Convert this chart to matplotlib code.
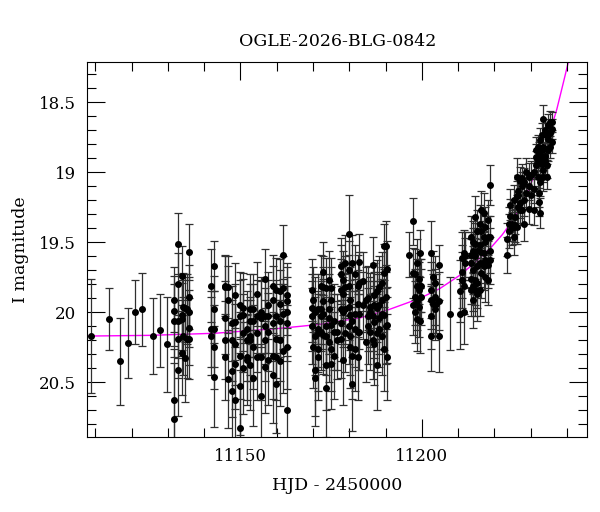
"""
OGLE-2026-BLG-0842 light curve: I-band photometry with a model curve
"""
import numpy as np
import matplotlib
matplotlib.use("Agg")
import matplotlib.pyplot as plt
from matplotlib.ticker import MultipleLocator

TITLE = "OGLE-2026-BLG-0842"
XLABEL = "HJD - 2450000"
YLABEL = "I magnitude"

# early sparse points
t_a = [11108.9, 11113.9, 11116.9, 11118.9, 11121.0, 11122.9, 11125.8, 11127.8, 11129.8]
mag_a = [[20.17], [20.05], [20.35], [20.22], [20.00], [19.98], [20.17], [20.13], [20.23]]
err_a = [[0.41], [0.22], [0.31], [0.25], [0.23], [0.26], [0.27], [0.26], [0.34]]

# first dense group
t_b = [11131.7, 11132.7, 11132.9, 11133.8, 11134.1, 11134.3, 11134.8, 11135.2,
       11135.8, 11141.8, 11142.8, 11145.8, 11146.7]
mag_b = [[19.91, 19.99, 20.06, 20.63, 20.76], [19.51, 19.80, 20.19, 20.41], [20.06],
         [19.74, 20.02, 20.05, 20.29], [19.96], [20.17], [19.97, 20.33], [19.98, 20.19],
         [19.57, 19.89, 20.00, 20.11, 20.19], [19.81, 20.12, 20.17],
         [19.67, 19.98, 20.12, 20.25, 20.46], [19.81, 19.82, 20.04, 20.20, 20.32],
         [19.82, 19.91, 20.48]]
err_b = [[0.23, 0.25, 0.26, 0.37, 0.40], [0.22, 0.22, 0.28, 0.33], [0.27],
         [0.21, 0.25, 0.26, 0.30], [0.24], [0.28], [0.24, 0.31], [0.25, 0.28],
         [0.20, 0.23, 0.25, 0.27, 0.29], [0.26, 0.27, 0.28],
         [0.18, 0.24, 0.27, 0.30, 0.36], [0.22, 0.22, 0.26, 0.28, 0.31],
         [0.22, 0.24, 0.35]]

# 11148 - 11163
t_c = [11147.8, 11148.5, 11149.9, 11150.8, 11151.8, 11152.7, 11153.6, 11154.7,
       11155.7, 11156.8, 11157.7, 11158.9, 11159.9, 11160.8, 11161.7, 11162.8]
mag_c = [[20.08, 20.20, 20.42, 20.56], [19.88, 20.07, 20.23, 20.37, 20.63],
         [19.95, 20.03, 20.31, 20.53, 20.83], [19.97, 20.02, 20.15, 20.40],
         [20.12, 20.20, 20.32, 20.34], [19.98, 20.06, 20.17, 20.20, 20.38],
         [19.98, 20.06, 20.25, 20.47], [19.87, 20.03, 20.15, 20.32],
         [20.00, 20.04, 20.32, 20.60], [19.76, 20.03, 20.10, 20.20, 20.39],
         [19.95, 20.03, 20.14, 20.34], [19.81, 19.91, 20.08, 20.31, 20.45],
         [19.84, 20.03, 20.19, 20.32, 20.51], [19.85, 19.94, 20.06, 20.20, 20.35],
         [19.59, 19.83, 20.01, 20.28], [19.88, 19.92, 20.00, 20.08, 20.25, 20.70]]
err_c = [[0.27, 0.29, 0.33, 0.36], [0.23, 0.27, 0.29, 0.32, 0.38],
         [0.24, 0.26, 0.31, 0.35, 0.42], [0.25, 0.26, 0.28, 0.33],
         [0.27, 0.29, 0.31, 0.32], [0.25, 0.26, 0.28, 0.29, 0.32],
         [0.25, 0.26, 0.30, 0.34], [0.23, 0.26, 0.28, 0.31],
         [0.25, 0.26, 0.31, 0.37], [0.21, 0.26, 0.27, 0.29, 0.33],
         [0.24, 0.26, 0.28, 0.32], [0.22, 0.24, 0.27, 0.31, 0.34],
         [0.23, 0.26, 0.28, 0.31, 0.35], [0.23, 0.24, 0.26, 0.29, 0.32],
         [0.21, 0.23, 0.25, 0.30], [0.23, 0.24, 0.25, 0.27, 0.30, 0.39]]

# 11169 - 11191
t_d = [11169.7, 11170.1, 11170.6, 11171.5, 11172.2, 11172.7, 11173.6, 11174.3,
       11174.9, 11175.7, 11176.6, 11177.7, 11178.2, 11178.9, 11179.8, 11180.2,
       11180.7, 11181.6, 11182.3, 11182.8, 11183.7, 11184.7, 11185.3, 11185.8,
       11186.5, 11186.9, 11187.6, 11188.3, 11189.0, 11189.6, 11190.2, 11190.5]
mag_d = [[19.84, 19.97, 20.03, 20.10], [19.91, 20.25], [20.00, 20.17, 20.41, 20.47],
         [19.98, 20.12, 20.15, 20.26, 20.32], [19.81, 19.98, 20.03, 20.14],
         [19.71, 19.82, 19.92, 20.01, 20.16], [19.83, 20.10, 20.17, 20.38, 20.54],
         [19.77, 19.98, 20.04, 20.21], [19.83, 19.91, 20.09, 20.26, 20.37],
         [20.06, 20.14, 20.31], [20.14, 20.20], [19.67, 19.73, 19.84, 19.98, 20.08, 20.19],
         [19.77, 19.87, 20.00, 20.34], [19.65, 19.82, 19.98, 20.15],
         [19.44, 19.70, 19.81, 19.96, 20.10], [19.91, 20.02, 20.17, 20.25],
         [19.65, 20.06, 20.31, 20.51], [19.73, 20.01, 20.12, 20.26],
         [19.81, 19.94, 20.14, 20.32], [19.64, 19.79, 20.01, 20.14], [19.78, 19.95],
         [19.91, 20.21], [19.90, 20.03, 20.10], [19.96, 20.00, 20.14],
         [19.66, 20.03, 20.20], [19.88, 19.95, 20.07, 20.23], [19.85, 19.97, 20.15, 20.38],
         [19.82, 19.95, 20.04, 20.12], [19.79, 19.91, 20.01, 20.17],
         [19.53, 19.72, 20.02, 20.26], [19.53, 19.89, 20.10], [19.69, 20.09, 20.32]]
err_d = [[0.22, 0.24, 0.25, 0.27], [0.23, 0.29], [0.25, 0.28, 0.33, 0.34],
         [0.25, 0.27, 0.28, 0.30, 0.31], [0.22, 0.25, 0.25, 0.27],
         [0.21, 0.22, 0.24, 0.25, 0.28], [0.22, 0.27, 0.28, 0.32, 0.35],
         [0.21, 0.25, 0.26, 0.29], [0.22, 0.23, 0.27, 0.30, 0.32],
         [0.26, 0.27, 0.31], [0.27, 0.28], [0.20, 0.21, 0.22, 0.25, 0.27, 0.28],
         [0.21, 0.23, 0.25, 0.32], [0.20, 0.22, 0.25, 0.28],
         [0.28, 0.21, 0.22, 0.24, 0.27], [0.23, 0.25, 0.28, 0.29],
         [0.20, 0.26, 0.31, 0.34], [0.21, 0.25, 0.27, 0.30],
         [0.22, 0.24, 0.27, 0.31], [0.20, 0.22, 0.25, 0.27], [0.21, 0.24],
         [0.23, 0.29], [0.23, 0.25, 0.27], [0.24, 0.25, 0.27],
         [0.20, 0.25, 0.28], [0.23, 0.24, 0.26, 0.29], [0.22, 0.24, 0.28, 0.32],
         [0.22, 0.24, 0.26, 0.27], [0.22, 0.23, 0.25, 0.28],
         [0.16, 0.21, 0.25, 0.30], [0.18, 0.23, 0.27], [0.20, 0.27, 0.31]]

# rising part, 11196 - 11236
t_e = [11196.6, 11197.7, 11198.2, 11198.6, 11199.1, 11199.4, 11199.7, 11202.6,
       11203.0, 11203.5, 11204.0, 11204.6, 11207.8, 11210.6, 11211.0, 11211.5,
       11211.9, 11213.5, 11214.1, 11214.7, 11215.3, 11215.9, 11216.4, 11217.0,
       11217.5, 11218.1, 11218.7, 11223.4, 11223.9, 11224.4, 11224.8, 11225.3,
       11225.7, 11226.2, 11226.6, 11227.1, 11227.6, 11228.2, 11228.8, 11229.4,
       11230.0, 11230.8, 11231.5, 11231.9, 11232.4, 11232.6, 11233.1, 11233.5,
       11234.0, 11234.5, 11234.9, 11235.4, 11235.8]
mag_e = [[19.59], [19.35, 19.72, 19.95], [19.73, 19.89, 20.00], [19.65, 19.81, 19.92, 20.05],
         [19.76, 19.84, 19.96], [19.58, 19.81, 20.06], [19.81, 19.89],
         [19.58, 19.84, 19.91, 20.03, 20.17], [19.75, 19.94], [19.79, 19.89, 19.98],
         [19.94], [19.66, 19.92, 20.17], [20.01], [19.85, 20.01], [19.61, 19.71, 19.77],
         [19.58, 19.81, 20.00], [19.60, 19.65], [19.46, 19.59, 19.65, 19.76, 19.84],
         [19.50, 19.56, 19.70, 19.81, 19.91], [19.32, 19.51, 19.60, 19.77, 19.84],
         [19.42, 19.56, 19.67, 19.79, 19.87], [19.37, 19.52, 19.65, 19.84],
         [19.27, 19.42, 19.57, 19.72], [19.29, 19.46, 19.58, 19.67],
         [19.39, 19.50, 19.63, 19.75], [19.34, 19.46, 19.66, 19.77],
         [19.09, 19.46, 19.56, 19.63], [19.48, 19.59], [19.37, 19.42], [19.23, 19.31],
         [19.37, 19.40], [19.20, 19.39, 19.46], [19.32, 19.38], [19.03, 19.17, 19.39],
         [19.13, 19.16, 19.25], [19.06, 19.22, 19.27], [19.04, 19.10, 19.27],
         [19.07, 19.20, 19.37], [19.00, 19.15], [19.03, 19.10, 19.26], [19.02, 19.16],
         [19.00, 19.12, 19.27], [18.84, 18.89, 18.95], [18.82, 18.92, 19.03],
         [18.87, 19.15, 19.21], [18.77, 18.90, 19.07, 19.29], [18.73, 18.84, 18.94],
         [18.62, 18.82, 18.98, 19.03], [18.70, 18.88, 18.92], [18.73, 18.83, 18.95, 19.03],
         [18.66, 18.76, 18.84], [18.64, 18.72, 18.82], [18.64, 18.69, 18.78]]
err_e = [[0.16], [0.17, 0.18, 0.21], [0.18, 0.20, 0.22], [0.17, 0.19, 0.21, 0.23],
         [0.18, 0.20, 0.22], [0.17, 0.19, 0.23], [0.19, 0.20],
         [0.23, 0.20, 0.21, 0.23, 0.25], [0.19, 0.21], [0.19, 0.20, 0.22],
         [0.21], [0.14, 0.21, 0.26], [0.26], [0.22, 0.25], [0.18, 0.19, 0.20],
         [0.17, 0.20, 0.23], [0.17, 0.18], [0.15, 0.16, 0.17, 0.18, 0.19],
         [0.15, 0.16, 0.17, 0.18, 0.20], [0.15, 0.15, 0.16, 0.18, 0.19],
         [0.15, 0.16, 0.17, 0.18, 0.19], [0.14, 0.15, 0.17, 0.19],
         [0.14, 0.15, 0.16, 0.18], [0.14, 0.15, 0.16, 0.17],
         [0.14, 0.15, 0.16, 0.18], [0.14, 0.15, 0.17, 0.18],
         [0.14, 0.15, 0.16, 0.17], [0.12, 0.13], [0.12, 0.12], [0.11, 0.12],
         [0.12, 0.12], [0.11, 0.12, 0.13], [0.12, 0.12], [0.13, 0.11, 0.12],
         [0.11, 0.11, 0.11], [0.10, 0.11, 0.11], [0.10, 0.10, 0.11],
         [0.10, 0.11, 0.12], [0.10, 0.11], [0.10, 0.10, 0.11], [0.10, 0.11],
         [0.10, 0.10, 0.11], [0.09, 0.09, 0.10], [0.09, 0.09, 0.10],
         [0.09, 0.10, 0.10], [0.09, 0.09, 0.10, 0.11], [0.08, 0.09, 0.09],
         [0.10, 0.09, 0.09, 0.10], [0.08, 0.09, 0.09], [0.08, 0.08, 0.09, 0.09],
         [0.08, 0.08, 0.08], [0.08, 0.08, 0.08], [0.07, 0.07, 0.08]]

# model curve
model_t = [11107.8, 11125.0, 11143.0, 11160.9, 11172.0, 11183.0, 11191.0, 11199.5,
           11205.0, 11210.5, 11214.2, 11218.8, 11222.2, 11224.3, 11226.4, 11228.0,
           11229.6, 11231.0, 11232.1, 11233.5, 11234.9, 11236.1, 11237.2, 11238.1,
           11239.0, 11239.7, 11240.4, 11241.3]
model_mag = [20.17, 20.165, 20.15, 20.115, 20.086, 20.04, 19.98, 19.90,
             19.83, 19.735, 19.655, 19.545, 19.445, 19.37, 19.285, 19.20,
             19.11, 19.02, 18.935, 18.84, 18.74, 18.645, 18.55, 18.455,
             18.36, 18.285, 18.21, 18.11]


def flatten(times, mags, errs):
	tt, mm, ee = [], [], []
	for t, ms, es in zip(times, mags, errs):
		for m, e in zip(ms, es):
			tt.append(t)
			mm.append(m)
			ee.append(e)
	return np.array(tt), np.array(mm), np.array(ee)


def main():
	plt.rcParams['font.family'] = ['DejaVu Serif']
	fig = plt.figure(figsize=(6, 5.12), dpi=100)
	ax = fig.add_axes([0.1455, 0.1471, 0.8333, 0.7312])

	ax.plot(model_t, model_mag, color='#ff00ff', lw=1.0, zorder=1)

	for times, mags, errs in [(t_a, mag_a, err_a), (t_b, mag_b, err_b), (t_c, mag_c, err_c),
							  (t_d, mag_d, err_d), (t_e, mag_e, err_e)]:
		t, m, e = flatten(times, mags, errs)
		ax.errorbar(t, m, yerr=e, fmt='o', color='black', ecolor='#303030',
					ms=4.0, elinewidth=0.9, capsize=2.6, capthick=0.9, zorder=2)

	ax.set_xlim(11107.8, 11245.6)
	ax.set_ylim(20.889, 18.214)
	ax.xaxis.set_major_locator(MultipleLocator(50))
	ax.xaxis.set_minor_locator(MultipleLocator(10))
	ax.yaxis.set_major_locator(MultipleLocator(0.5))
	ax.yaxis.set_minor_locator(MultipleLocator(0.1))
	ax.yaxis.set_major_formatter(plt.FuncFormatter(lambda v, p: f"{v:g}"))
	ax.tick_params(which='both', direction='in', top=True, right=True, width=0.8,
				   labelsize=12)
	ax.tick_params(which='major', length=13, pad=8)
	ax.tick_params(which='minor', length=6.5)
	for s in ax.spines.values():
		s.set_linewidth(0.8)

	ax.set_title(TITLE, fontsize=12.5, pad=12)
	ax.set_xlabel(XLABEL, fontsize=12.5, labelpad=9)
	ax.set_ylabel(YLABEL, fontsize=12.5, labelpad=7)

	fig.savefig('out.png', dpi=100)


if __name__ == "__main__":
	main()
